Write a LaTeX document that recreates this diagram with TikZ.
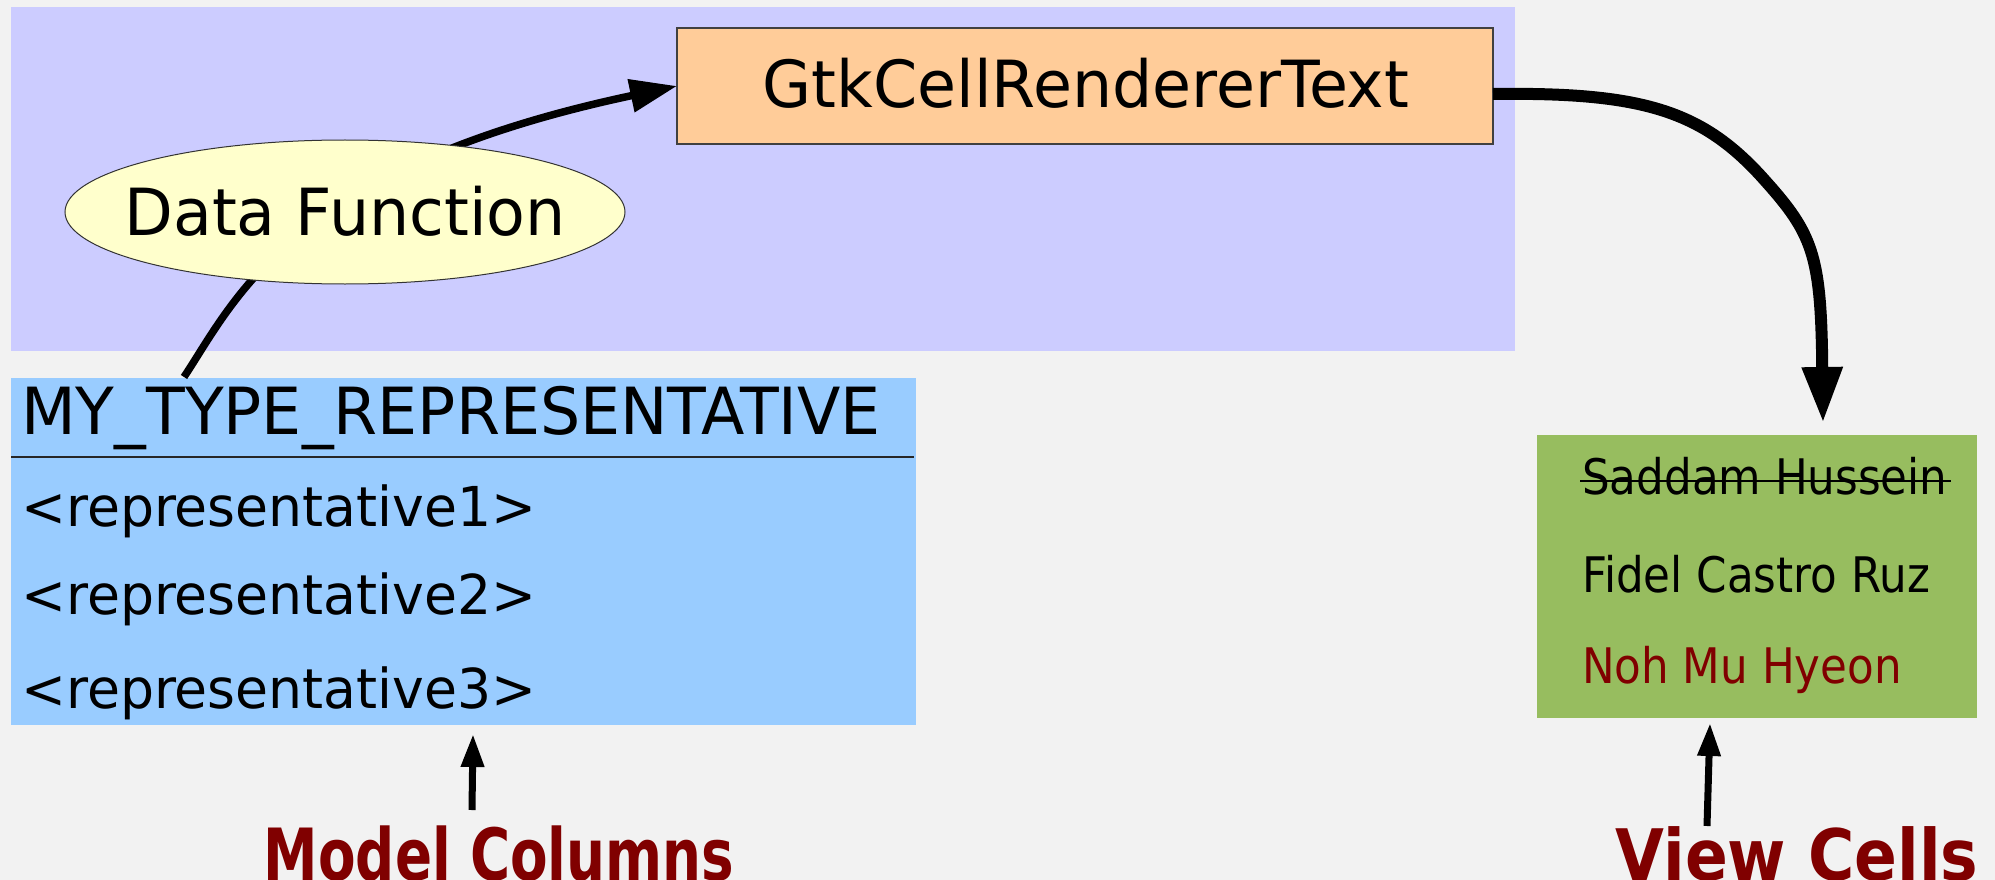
\documentclass[tikz,border=0pt]{standalone}
\usepackage{fontspec}
\setmainfont{DejaVu Sans}[FakeStretch=0.975]
\newfontfamily\greenfont{DejaVu Sans}[FakeStretch=0.89]
\newfontfamily\mcfont{DejaVu Sans}[FakeStretch=0.76]
\usetikzlibrary{arrows.meta,shapes.geometric}
\definecolor{bgc}{HTML}{F2F2F2}
\definecolor{purp}{HTML}{CCCCFF}
\definecolor{orng}{HTML}{FFCC99}
\definecolor{yel}{HTML}{FFFFCC}
\definecolor{blu}{HTML}{99CCFF}
\definecolor{grn}{HTML}{97BD5F}
\definecolor{dred}{HTML}{800000}
\tikzset{
  box/.style={anchor=north west, inner sep=0pt, outer sep=0pt},
  bigtext/.style={font=\fontsize{65}{78}\selectfont},
  reptext/.style={font=\fontsize{55}{66}\selectfont, anchor=base west, inner sep=0pt},
  celltext/.style={font=\greenfont\fontsize{49}{59}\selectfont, anchor=base west, inner sep=0pt},
  captext/.style={text=dred, anchor=base, inner sep=0pt},
  uparrow/.style={line width=7pt, -{Triangle[length=33pt,width=22pt]}},
  curvearrow/.style={line width=7.5pt, -{Triangle[length=47pt,width=32pt]}},
  bigarrow/.style={line width=12pt, -{Triangle[length=56pt,width=38pt]}},
}
\begin{document}
\begin{tikzpicture}[x=1pt,y=-1pt]
\useasboundingbox (0,0) rectangle (1995,880);
\fill[bgc] (0,0) rectangle (1995,880);
% panels
\node[box, fill=purp, minimum width=1504pt, minimum height=344pt] (panel) at (11,7) {};
\node[box, fill=blu, minimum width=905pt, minimum height=347pt] (model) at (11,378) {};
\node[box, fill=grn, minimum width=440pt, minimum height=283pt] (cells) at (1537,435) {};
\draw[line width=1.4pt, black!85] (11,457) -- (914,457);
% renderer box
\node[box, fill=orng, draw=black!75, line width=1.3pt, minimum width=816pt, minimum height=116pt] (gtk) at (677,28) {};
\node[bigtext, anchor=base, inner sep=0pt] (gtktext) at (1086,108) {GtkCellRendererText};
% model texts
\node[bigtext, anchor=base west, inner sep=0pt] (hdr) at (21,434) {MY\_TYPE\_REPRESENTATIVE};
\node[reptext] (rep1) at (21,526) {<representative1>};
\node[reptext] (rep2) at (21,614) {<representative2>};
\node[reptext] (rep3) at (21,708) {<representative3>};
% cell texts
\node[celltext] (saddam) at (1582,494) {Saddam Hussein};
\node[celltext] (fidel) at (1582,592) {Fidel Castro Ruz};
\node[celltext, text=dred] (noh) at (1582,683) {Noh Mu Hyeon};
\draw[line width=2.6pt] ([shift={(-2,-13)}]saddam.base west) -- ([shift={(3,-13)}]saddam.base east);
% curve from model column through data function to renderer
\coordinate (dfStart) at (184,377);
\draw[curvearrow] (dfStart) .. controls (235,300) and (290,168) .. (gtk.west);
% data function ellipse
\node[ellipse, fill=yel, draw=black!80, line width=1pt, minimum width=560pt, minimum height=144pt, inner sep=0pt,
      label={[bigtext, inner sep=0pt, text height=47pt, text depth=0pt]center:Data Function}] (df) at (345,212) {};
% renderer to view cells
\draw[bigarrow] ([yshift=-8pt]gtk.east) .. controls (1640,92) and (1700,110) .. (1760,175)
   .. controls (1810,230) and (1820,250) .. (1822,350) -- ([shift={(66pt,12pt)}]cells.north);
% captions
\node[captext, font=\mcfont\bfseries\fontsize{72}{86}\selectfont] (mcap) at (499,880) {Model Columns};
\node[captext, font=\greenfont\bfseries\fontsize{71}{85}\selectfont] (vcap) at (1797,880) {View Cells};
\coordinate (mcA) at (472,810);
\coordinate (mcB) at (473,734);
\draw[uparrow] (mcA) -- (mcB);
\coordinate (vcA) at (1707,826);
\coordinate (vcB) at (1710,723);
\draw[uparrow] (vcA) -- (vcB);
\end{tikzpicture}
\end{document}
